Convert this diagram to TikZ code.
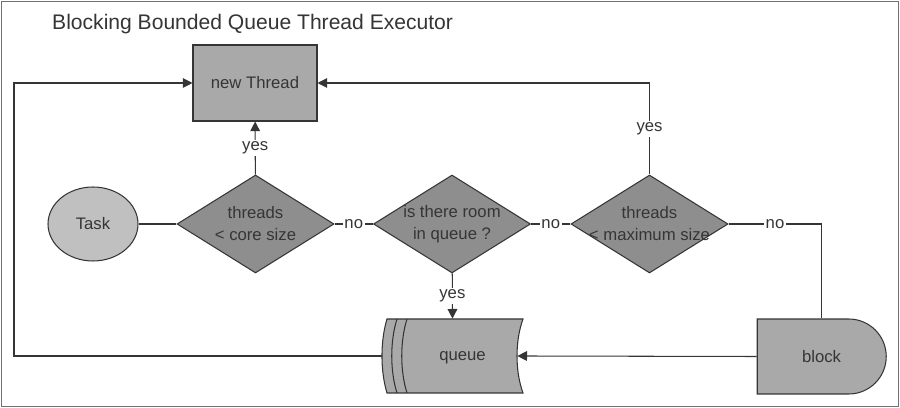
\documentclass[tikz,border=0pt]{standalone}
\usepackage{fontspec}
\setmainfont{Liberation Sans}
\usetikzlibrary{shapes.geometric,shapes.misc,arrows.meta}
\definecolor{boxgray}{HTML}{A9A9A9}
\definecolor{decgray}{HTML}{8E8E8E}
\definecolor{taskgray}{HTML}{C0C0C0}
\definecolor{inkgray}{HTML}{353535}
\tikzset{
  every node/.style={font=\fontsize{9.5}{12.5}\selectfont, text=inkgray},
  line/.style={draw=inkgray, line width=0.6pt},
  arrow/.style={line, -{Triangle[length=5.5pt,width=5.5pt]}},
  process/.style={line, fill=boxgray, minimum width=2.48cm, minimum height=1.52cm},
  decision/.style={line, fill=decgray, diamond, inner sep=-20pt, align=center,
    minimum width=3.14cm, minimum height=1.96cm},
  answer/.style={fill=white, inner sep=1pt}
}
\begin{document}
\begin{tikzpicture}[x=0.02cm,y=-0.02cm]
  \useasboundingbox (0,0) rectangle (900,408);
  \draw[gray!90!black, line width=0.9pt] (1.5,1.5) rectangle (898.5,406.5);
  \node[anchor=west, font=\fontsize{12}{14}\selectfont] (title) at (46,24)
    {Blocking Bounded Queue Thread Executor};

  \node[process] (newthread) at (255,83) {new Thread};
  \node[ellipse, line, fill=taskgray, minimum width=1.8cm, minimum height=1.48cm]
    (task) at (93,224) {Task};
  \node[decision] (core) at (255.5,224) {threads\\< core size};
  \node[decision] (room) at (452,224) {is there room\\in queue ?};
  \node[decision] (max) at (649.5,224) {threads\\< maximum size};

  % queue: outline by hand, text node on top
  \coordinate (qc) at (452.5,356);
  \begin{scope}[shift={(qc)}]
    \filldraw[line, fill=boxgray] (-65.5,-37) -- (70.5,-37)
      .. controls (62.5,-15) and (62.5,15) .. (70.5,37) -- (-65.5,37)
      .. controls (-72.2,15) and (-72.2,-15) .. (-65.5,-37) -- cycle;
    \draw[line] (-55.5,-37) .. controls (-62.5,-15) and (-62.5,15) .. (-55.5,37);
    \draw[line] (-45.5,-37) .. controls (-52.5,-15) and (-52.5,15) .. (-45.5,37);
  \end{scope}
  \node[minimum width=2.82cm, minimum height=1.48cm, inner sep=0pt] (queue) at (qc) {};
  \node at ([xshift=0.2cm, yshift=-0.04cm]queue.center) {queue};

  \node[rounded rectangle, rounded rectangle west arc=none, line, fill=boxgray,
    minimum width=2.58cm, minimum height=1.5cm, inner sep=0pt] (block) at (821.5,356.5) {block};

  \coordinate (loop) at (14,0);

  \draw[line] (task) -- (core);
  \draw[arrow] (core) -- node[answer] {yes} (newthread);
  \draw[line] (core) -- node[answer] {no} (room);
  \draw[line] (room) -- node[answer] {no} (max);
  \draw[arrow] (room) -- node[answer] {yes} (queue.north);
  \draw[arrow] (max.north) |- node[answer, pos=0.25] {yes} (newthread.east);
  \draw[line] (max.east) -| node[answer, pos=0.25] {no} (block.north);
  \draw[arrow, shorten >=-0.12cm] (block.west) -- (queue.east);
  \draw[arrow] (queue.west) -- (queue.west -| loop) |- (newthread.west);
\end{tikzpicture}
\end{document}
